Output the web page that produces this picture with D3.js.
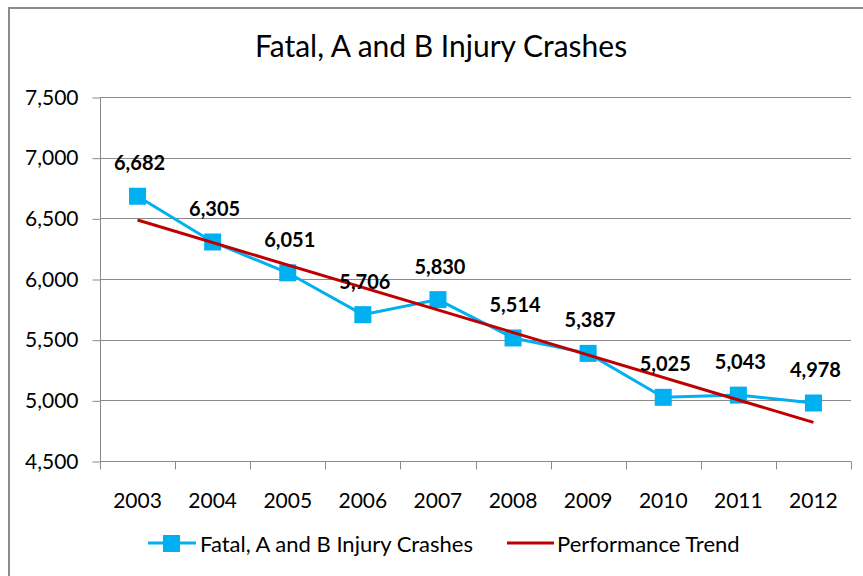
<!DOCTYPE html>
<html>
<head>
<meta charset="utf-8">
<script src="https://cdn.jsdelivr.net/npm/d3@7"></script>
<style>
  body { margin: 0; background: #fff; }
  svg { display: block; }
</style>
</head>
<body>
<svg id="chart"></svg>
<script>
// data
var years = ["2003", "2004", "2005", "2006", "2007", "2008", "2009", "2010", "2011", "2012"];
var crashes = [6682, 6305, 6051, 5706, 5830, 5514, 5387, 5025, 5043, 4978];
var trendYears = ["2003", "2012"];
var trendValues = [6486, 4818];
var yTicks = [4500, 5000, 5500, 6000, 6500, 7000, 7500];

var width = 863, height = 576;
var plotLeft = 100, plotRight = 851, plotTop = 97, plotBottom = 461;
var font = "Lato, 'Open Sans', sans-serif";

var svg = d3.select("#chart").attr("width", width).attr("height", height);

// outer chart border
svg.append("rect")
  .attr("x", 9).attr("y", 8)
  .attr("width", 870).attr("height", 600)
  .attr("fill", "none")
  .attr("stroke", "#8c8c8c")
  .attr("stroke-width", 2);

svg.append("text")
  .attr("x", 441).attr("y", 57)
  .attr("text-anchor", "middle")
  .style("font-family", font)
  .style("font-size", "30px")
  .attr("fill", "#000")
  .text("Fatal, A and B Injury Crashes");

var x = d3.scaleBand().domain(years).range([plotLeft, plotRight]);
var y = d3.scaleLinear().domain([4500, 7500]).range([plotBottom, plotTop]);

// gridlines
svg.append("g")
  .selectAll("line")
  .data(yTicks.slice(1))
  .join("line")
  .attr("x1", plotLeft).attr("x2", plotRight)
  .attr("y1", function (d) { return Math.round(y(d)) + 0.5 })
  .attr("y2", function (d) { return Math.round(y(d)) + 0.5 })
  .attr("stroke", "#8a8a8a");

// y axis
var yAxis = svg.append("g")
  .attr("transform", "translate(" + (plotLeft + 0.5) + ",0.5)")
  .call(d3.axisLeft(y).tickValues(yTicks).tickFormat(d3.format(",")).tickSize(8).tickPadding(14));
yAxis.selectAll("line, path").attr("stroke", "#8a8a8a");
yAxis.select(".domain").attr("d", "M0," + Math.round(plotTop) + "V" + Math.round(plotBottom));
yAxis.selectAll("text")
  .style("font-family", font)
  .style("font-size", "21px")
  .attr("fill", "#000");

// x axis with ticks between categories
var xg = svg.append("g").attr("transform", "translate(0," + (Math.round(plotBottom) + 0.5) + ")");
xg.append("line")
  .attr("x1", plotLeft).attr("x2", plotRight)
  .attr("stroke", "#8a8a8a");
xg.selectAll("line.tick")
  .data(years.concat(["end"]))
  .join("line")
  .attr("class", "tick")
  .attr("x1", function (d, i) { return Math.round(plotLeft + i * x.step()) + 0.5 })
  .attr("x2", function (d, i) { return Math.round(plotLeft + i * x.step()) + 0.5 })
  .attr("y1", 0).attr("y2", 8)
  .attr("stroke", "#8a8a8a");
xg.selectAll("text")
  .data(years)
  .join("text")
  .attr("x", function (d) { return x(d) + x.bandwidth() / 2 })
  .attr("y", 38)
  .attr("text-anchor", "middle")
  .attr("dominant-baseline", "central")
  .style("font-family", font)
  .style("font-size", "21px")
  .attr("fill", "#000")
  .text(function (d) { return d });

function cx(d) { return x(d) + x.bandwidth() / 2 }

var line = d3.line()
  .x(function (d, i) { return cx(years[i]) })
  .y(function (d) { return y(d) });

svg.append("path")
  .datum(crashes)
  .attr("d", line)
  .attr("fill", "none")
  .attr("stroke", "#00b0f0")
  .attr("stroke-width", 3);

svg.selectAll("rect.marker")
  .data(crashes)
  .join("rect")
  .attr("class", "marker")
  .attr("x", function (d, i) { return cx(years[i]) - 8.5 })
  .attr("y", function (d) { return y(d) - 8.5 })
  .attr("width", 17).attr("height", 17)
  .attr("fill", "#00b0f0");

// trend line
var trendLine = d3.line()
  .x(function (d, i) { return cx(trendYears[i]) })
  .y(function (d) { return y(d) });
svg.append("path")
  .datum(trendValues)
  .attr("d", trendLine)
  .attr("fill", "none")
  .attr("stroke", "#c00000")
  .attr("stroke-width", 3);

// data labels
svg.selectAll("text.lbl")
  .data(crashes)
  .join("text")
  .attr("class", "lbl")
  .attr("x", function (d, i) { return cx(years[i]) + 2 })
  .attr("y", function (d) { return y(d) - 34 })
  .attr("text-anchor", "middle")
  .attr("dominant-baseline", "central")
  .style("font-family", font)
  .style("font-size", "20px")
  .style("font-weight", "bold")
  .attr("fill", "#000")
  .text(function (d) { return d3.format(",")(d) });

// legend
var lg = svg.append("g");
lg.append("line")
  .attr("x1", 148).attr("x2", 196).attr("y1", 543).attr("y2", 543)
  .attr("stroke", "#00b0f0").attr("stroke-width", 3);
lg.append("rect")
  .attr("x", 163).attr("y", 535).attr("width", 17).attr("height", 17)
  .attr("fill", "#00b0f0");
lg.append("text")
  .attr("x", 200).attr("y", 543)
  .attr("dominant-baseline", "central")
  .style("font-family", font).style("font-size", "22px")
  .text("Fatal, A and B Injury Crashes");
lg.append("line")
  .attr("x1", 507).attr("x2", 554).attr("y1", 543).attr("y2", 543)
  .attr("stroke", "#c00000").attr("stroke-width", 3);
lg.append("text")
  .attr("x", 557).attr("y", 543)
  .attr("dominant-baseline", "central")
  .style("font-family", font).style("font-size", "22px")
  .text("Performance Trend");
</script>
</body>
</html>
